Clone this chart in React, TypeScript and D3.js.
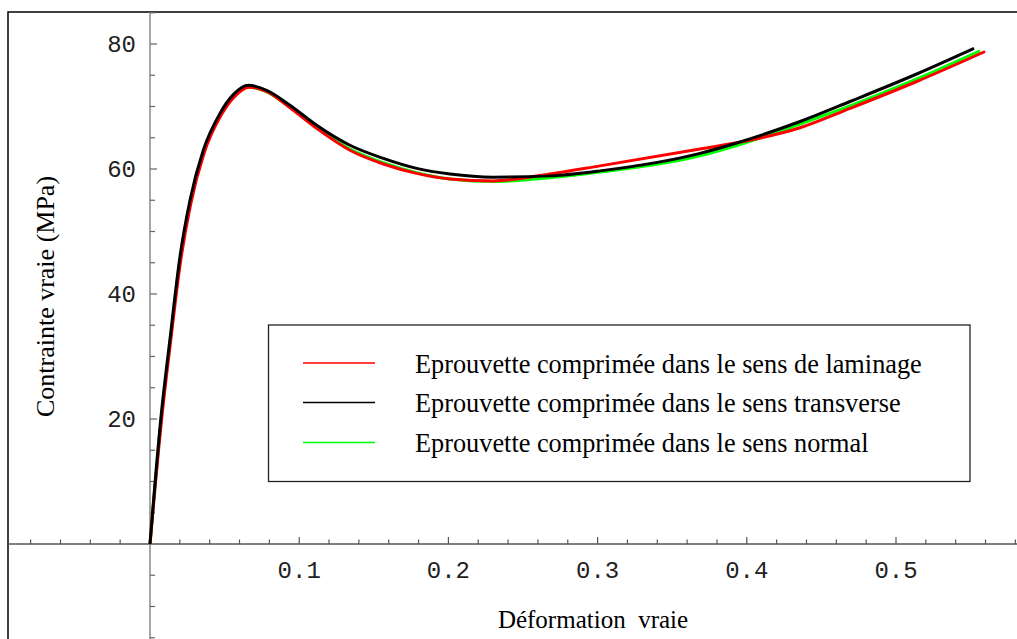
import { line, scaleLinear, range, curveMonotoneX } from "d3";

type Pt = [number, number];

// stress-strain curves: [true strain, true stress MPa]
const laminage: Pt[] = [
  [0, 0], [0.0078, 20], [0.0139, 32.6], [0.0206, 45.4], [0.0273, 54.4], [0.0362, 62.5],
  [0.0474, 68.5], [0.0563, 71.5], [0.0665, 73.1], [0.078, 72.4], [0.0938, 69.8],
  [0.1117, 66.5], [0.134, 63.0], [0.1564, 60.8], [0.1787, 59.3], [0.201, 58.4],
  [0.23, 58.1], [0.268, 59.2], [0.3016, 60.5], [0.3686, 63.2], [0.402, 64.6],
  [0.4357, 66.6], [0.4692, 69.7], [0.5139, 74.0], [0.5597, 78.8],
];

const transverse: Pt[] = [
  [0, 0], [0.0074, 20.4], [0.0135, 33], [0.0201, 46], [0.0268, 55], [0.0357, 63],
  [0.0469, 68.9], [0.0558, 71.9], [0.0659, 73.4], [0.0782, 72.6], [0.0938, 70.2],
  [0.1117, 67.0], [0.134, 63.8], [0.1564, 61.7], [0.1787, 60.1], [0.201, 59.2],
  [0.23, 58.7], [0.268, 58.9], [0.3016, 59.7], [0.3686, 62.5], [0.391, 64.0],
  [0.4357, 67.6], [0.4692, 70.8], [0.5139, 75.2], [0.5523, 79.3],
];

const normal: Pt[] = [
  [0, 0], [0.0076, 20.2], [0.0137, 32.8], [0.0203, 45.7], [0.027, 54.7], [0.036, 62.7],
  [0.0472, 68.6], [0.056, 71.6], [0.0662, 73.1], [0.078, 72.4], [0.0938, 69.9],
  [0.1117, 66.6], [0.134, 63.2], [0.1564, 61.0], [0.1787, 59.4], [0.201, 58.4],
  [0.23, 58.0], [0.268, 58.6], [0.3016, 59.5], [0.3686, 62.1], [0.391, 63.6],
  [0.4357, 67.2], [0.4692, 70.1], [0.5139, 74.4], [0.5563, 78.9],
];

const seriesLabels = [
  "Eprouvette comprimée dans le sens de laminage",
  "Eprouvette comprimée dans le sens transverse",
  "Eprouvette comprimée dans le sens normal",
];
const seriesColors = ["#ff0000", "#000000", "#00ff00"];

const xTickLabels = [0.1, 0.2, 0.3, 0.4, 0.5];
const yTickLabels = [20, 40, 60, 80];

export default function App() {
  const width = 1017;
  const height = 639;

  const x = scaleLinear().domain([0, 0.5]).range([150, 896]);
  const y = scaleLinear().domain([0, 80]).range([544, 44]);

  const frameLeft = 8;
  const frameTop = 12;

  const xMin = x.invert(frameLeft);
  const xMax = x.invert(width);
  const yMax = y.invert(frameTop);

  const xMinor = range(-0.08, xMax, 0.02).filter((v) => v >= xMin);
  const yMinor = range(-15, yMax + 0.01, 5);

  const path = line<Pt>()
    .x((d) => x(d[0]))
    .y((d) => y(d[1]))
    .curve(curveMonotoneX);

  const series = [laminage, transverse, normal];
  // draw order: green under red under black
  const drawOrder = [2, 0, 1];

  const legendX = 268.5;
  const legendY = 325;
  const legendRows = [363, 402.5, 442.5];
  const serif = "'Liberation Serif', 'Times New Roman', serif";
  const mono = "'Liberation Mono', 'Courier New', monospace";

  return (
    <svg
      width={width}
      height={height}
      style={{ position: "absolute", left: 0, top: 0, background: "#fff" }}
    >
      <rect x={0} y={0} width={width} height={height} fill="#fff" />
      {/* outer frame (bottom/right fall outside the picture) */}
      <rect x={frameLeft} y={frameTop} width={width + 20} height={height + 20} fill="none" stroke="#000" strokeWidth={1.5} />

      {/* axes */}
      <line x1={frameLeft} x2={width} y1={y(0)} y2={y(0)} stroke="#555" strokeWidth={1.3} />
      <line x1={x(0)} x2={x(0)} y1={frameTop} y2={height} stroke="#777" strokeWidth={1.3} />

      {xMinor.map((v, i) => {
        const major = xTickLabels.some((t) => Math.abs(t - v) < 1e-6);
        return (
          <line key={`xm${i}`} x1={x(v)} x2={x(v)} y1={y(0)} y2={y(0) - (major ? 7 : 4.5)} stroke="#555" strokeWidth={1.2} />
        );
      })}
      {yMinor.map((v, i) => {
        if (Math.abs(v) < 1e-6) return null;
        const major = yTickLabels.includes(Math.round(v));
        return (
          <line key={`ym${i}`} x1={x(0)} x2={x(0) + (major ? 7 : 5)} y1={y(v)} y2={y(v)} stroke="#666" strokeWidth={1.2} />
        );
      })}

      {xTickLabels.map((t) => (
        <text key={`xl${t}`} x={x(t)} y={578} textAnchor="middle" fontFamily={mono} fontSize={24} fill="#222">
          {t.toFixed(1)}
        </text>
      ))}
      {yTickLabels.map((t) => (
        <text key={`yl${t}`} x={136} y={y(t)} dy="0.35em" textAnchor="end" fontFamily={mono} fontSize={24} fill="#222">
          {t}
        </text>
      ))}

      {/* curves */}
      {drawOrder.map((i) => (
        <path key={`s${i}`} d={path(series[i]) ?? ""} fill="none" stroke={seriesColors[i]} strokeWidth={3} strokeLinejoin="round" />
      ))}

      {/* axis titles */}
      <text x={593} y={628} textAnchor="middle" fontFamily={serif} fontSize={25} fill="#000" style={{ whiteSpace: "pre" }}>
        {"Déformation  vraie"}
      </text>
      <text
        transform={`translate(54, 296.5) rotate(-90)`}
        textAnchor="middle"
        fontFamily={serif}
        fontSize={26}
        fill="#000"
      >
        Contrainte vraie (MPa)
      </text>

      {/* legend */}
      <rect x={legendX} y={legendY} width={970 - legendX} height={481.5 - legendY} fill="#fff" stroke="#222" strokeWidth={1.3} />
      {seriesLabels.map((label, i) => (
        <g key={`lg${i}`}>
          <line x1={303} x2={375} y1={legendRows[i]} y2={legendRows[i]} stroke={seriesColors[i]} strokeWidth={1.5} />
          <text x={415} y={legendRows[i] + 9.5} fontFamily={serif} fontSize={26.3} fill="#000">
            {label}
          </text>
        </g>
      ))}
    </svg>
  );
}
